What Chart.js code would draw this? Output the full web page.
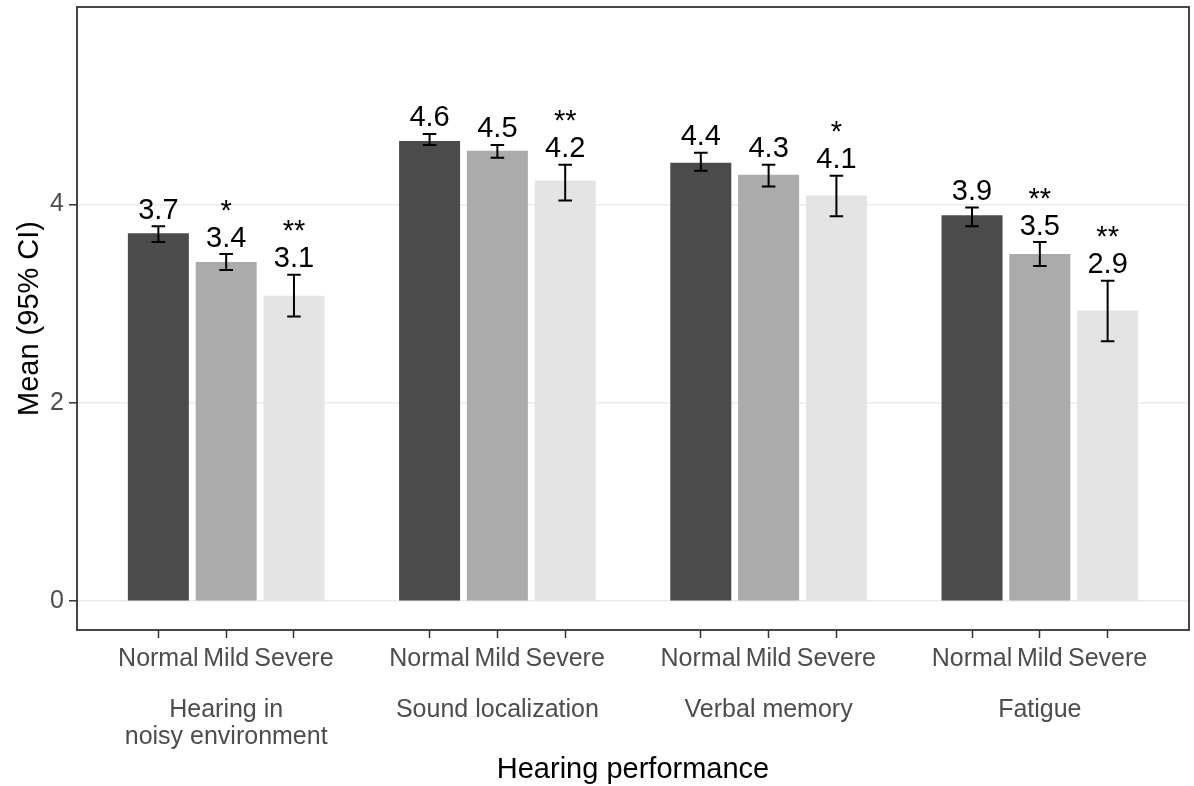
<!DOCTYPE html>
<html>
<head>
<meta charset="utf-8">
<script src="https://cdn.jsdelivr.net/npm/chart.js@4/dist/chart.umd.min.js"></script>
<style>
  html, body { margin: 0; padding: 0; background: #ffffff; }
  #wrap { width: 1194px; height: 786px; }
</style>
</head>
<body>
<div id="wrap"><canvas id="c" width="1194" height="786"></canvas></div>
<script>
// Domains of self-reported hearing performance (multi-line names for the lower axis row)
const domains = [["Hearing in", "noisy environment"], ["Sound localization"], ["Verbal memory"], ["Fatigue"]];
// Hearing-loss groups
const levels = ["Normal", "Mild", "Severe"];

// Group means per domain
const normalMean = [3.71, 4.64, 4.42, 3.89];
const mildMean   = [3.42, 4.54, 4.30, 3.50];
const severeMean = [3.08, 4.24, 4.09, 2.93];

// 95% confidence limits
const normalLow  = [3.62, 4.60, 4.34, 3.78];
const normalHigh = [3.78, 4.71, 4.52, 3.97];
const mildLow    = [3.34, 4.47, 4.18, 3.38];
const mildHigh   = [3.50, 4.60, 4.40, 3.62];
const severeLow  = [2.87, 4.04, 3.88, 2.62];
const severeHigh = [3.29, 4.40, 4.29, 3.23];

// Significance markers versus the Normal group
const normalSig = ["", "", "", ""];
const mildSig   = ["*", "", "", "**"];
const severeSig = ["**", "**", "*", "**"];

// Value-axis breaks
const yTicks = [0, 2, 4];

const FONT = "'Liberation Sans', Arial, sans-serif";
const AXIS_TEXT = 25;
const TITLE_TEXT = 29;
const fills = ["#4B4B4B", "#ABABAB", "#E4E4E4"];

const means = [normalMean, mildMean, severeMean];
const lows  = [normalLow, mildLow, severeLow];
const highs = [normalHigh, mildHigh, severeHigh];
const sigs  = [normalSig, mildSig, severeSig];

// Each domain occupies one slot per group plus an empty slot as a separator
const slot = (d, l) => d * (levels.length + 1) + l + 1;
const tickLabel = {};
domains.forEach((_, d) => levels.forEach((name, l) => { tickLabel[slot(d, l)] = name; }));
const tickPositions = Object.keys(tickLabel).map(Number);

const datasets = levels.map((name, l) => ({
  label: name,
  data: domains.map((_, d) => ({ x: slot(d, l), y: means[l][d] })),
  backgroundColor: fills[l],
  borderWidth: 0
}));

const annotate = {
  id: 'annotate',
  afterDatasetsDraw(chart) {
    const { ctx, scales: { x, y } } = chart;
    const capHalf = x.getPixelForValue(1.1) - x.getPixelForValue(1);
    ctx.save();
    ctx.strokeStyle = '#000';
    ctx.lineWidth = 2;
    ctx.fillStyle = '#000';
    ctx.textAlign = 'center';
    ctx.textBaseline = 'alphabetic';
    ctx.font = `${TITLE_TEXT}px ${FONT}`;
    levels.forEach((_, l) => {
      domains.forEach((__, d) => {
        const px = x.getPixelForValue(slot(d, l));
        const yl = y.getPixelForValue(lows[l][d]);
        const yh = y.getPixelForValue(highs[l][d]);
        ctx.beginPath();
        ctx.moveTo(px, yl); ctx.lineTo(px, yh);
        ctx.moveTo(px - capHalf, yl); ctx.lineTo(px + capHalf, yl);
        ctx.moveTo(px - capHalf, yh); ctx.lineTo(px + capHalf, yh);
        ctx.stroke();
        const base = yh - 7.5;
        ctx.fillText(means[l][d].toFixed(1), px, base);
        if (sigs[l][d]) ctx.fillText(sigs[l][d], px, base - 27);
      });
    });
    ctx.restore();
  },
  afterDraw(chart) {
    const { ctx, chartArea: a, scales: { x } } = chart;
    ctx.save();
    // panel border
    ctx.strokeStyle = '#333';
    ctx.lineWidth = 1.8;
    ctx.strokeRect(a.left, a.top, a.right - a.left, a.bottom - a.top);
    // domain names under the group labels
    ctx.fillStyle = '#4D4D4D';
    ctx.font = `${AXIS_TEXT}px ${FONT}`;
    ctx.textAlign = 'center';
    ctx.textBaseline = 'alphabetic';
    domains.forEach((lines, d) => {
      const cx = x.getPixelForValue(slot(d, 1));
      lines.forEach((t, i) => ctx.fillText(t, cx, 717 + i * 27));
    });
    ctx.restore();
  }
};

new Chart(document.getElementById('c'), {
  type: 'bar',
  data: { datasets },
  plugins: [annotate],
  options: {
    responsive: false,
    animation: false,
    devicePixelRatio: 1,
    layout: { padding: { top: 7, right: 5, left: 0, bottom: 0 } },
    plugins: { legend: { display: false }, tooltip: { enabled: false } },
    datasets: { bar: { grouped: false, barPercentage: 0.9, categoryPercentage: 1 } },
    scales: {
      x: {
        type: 'linear',
        min: -0.2, max: 16.2,
        offset: false,
        afterBuildTicks(s) { s.ticks = tickPositions.map(v => ({ value: v })); },
        afterFit(s) { s.height = 156; s.paddingLeft = 0; s.paddingRight = 0; },
        grid: { offset: false, drawOnChartArea: false, drawTicks: true, tickLength: 8, tickColor: '#333', tickWidth: 1.5 },
        border: { display: false },
        ticks: {
          autoSkip: false, maxRotation: 0, padding: 6,
          color: '#4D4D4D', font: { family: FONT, size: AXIS_TEXT },
          callback: v => tickLabel[v] || ''
        },
        title: { display: true, text: 'Hearing performance', color: '#000', font: { family: FONT, size: TITLE_TEXT, lineHeight: 1.1 }, padding: { top: 0, bottom: 0 } }
      },
      y: {
        min: -0.29, max: 5.99,
        afterBuildTicks(s) { s.ticks = yTicks.map(v => ({ value: v })); },
        afterFit(s) { s.width = 77; s.paddingTop = 0; s.paddingBottom = 0; },
        grid: { color: '#EBEBEB', lineWidth: 1.6, tickLength: 8, tickColor: '#333', tickWidth: 1.5 },
        border: { display: false },
        ticks: { padding: 5, color: '#4D4D4D', font: { family: FONT, size: AXIS_TEXT }, callback: v => String(v) },
        title: { display: true, text: 'Mean (95% CI)', color: '#000', font: { family: FONT, size: TITLE_TEXT }, padding: { top: 13, bottom: 0 } }
      }
    }
  }
});
</script>
</body>
</html>
